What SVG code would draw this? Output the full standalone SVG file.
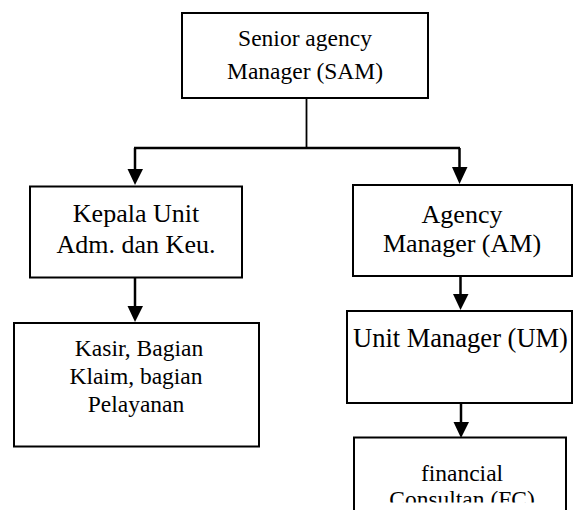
<svg xmlns="http://www.w3.org/2000/svg" width="573" height="510" viewBox="0 0 573 510">
<defs>
<style>
.box{fill:#fff;stroke:#000;stroke-width:2}
.t{font-family:"Liberation Serif","Times New Roman",serif;fill:#000;text-anchor:middle}
.c{stroke:#000;stroke-width:2.5;fill:none}
.ah{fill:#000}
</style>
<clipPath id="fcclip"><rect x="340" y="430" width="240" height="72.5"/></clipPath>
</defs>
<rect width="573" height="510" fill="#fff"/>
<g id="connectors">
<line class="c" x1="306.5" y1="98" x2="306.5" y2="148" style="stroke-width:1.8"/>
<line class="c" x1="134" y1="148" x2="460" y2="148"/>
<line class="c" x1="135" y1="148" x2="135" y2="170"/>
<polygon class="ah" points="127.5,169 143,169 135,185"/>
<line class="c" x1="459.5" y1="148" x2="459.5" y2="168"/>
<polygon class="ah" points="452,167 467.5,167 459.5,184"/>
<line class="c" x1="135" y1="278" x2="135" y2="307"/>
<polygon class="ah" points="127.5,306 143,306 135,322"/>
<line class="c" x1="460.5" y1="276" x2="460.5" y2="295"/>
<polygon class="ah" points="453,294 468.5,294 460.5,310"/>
<line class="c" x1="461" y1="403" x2="461" y2="423"/>
<polygon class="ah" points="453.5,422 469,422 461,438"/>
</g>
<g id="sam">
<rect class="box" x="182" y="13" width="246" height="85"/>
<text class="t" x="305" y="45.5" font-size="23.5">Senior agency</text>
<text class="t" x="305" y="79" font-size="23.5">Manager (SAM)</text>
</g>
<g id="kepala">
<rect class="box" x="30" y="186.5" width="212" height="91"/>
<text class="t" x="136" y="222" font-size="26">Kepala Unit</text>
<text class="t" x="136" y="253" font-size="26">Adm. dan Keu.</text>
</g>
<g id="kasir">
<rect class="box" x="14" y="323" width="245" height="123.5"/>
<text class="t" x="139" y="355.5" font-size="23.5">Kasir, Bagian</text>
<text class="t" x="136" y="384" font-size="23.5">Klaim, bagian</text>
<text class="t" x="136" y="412" font-size="23.5">Pelayanan</text>
</g>
<g id="am">
<rect class="box" x="353" y="185" width="219" height="91"/>
<text class="t" x="462" y="223" font-size="26">Agency</text>
<text class="t" x="462" y="251.5" font-size="26">Manager (AM)</text>
</g>
<g id="um">
<rect class="box" x="347" y="311" width="225" height="92"/>
<text class="t" x="460.5" y="346.5" font-size="26.5">Unit Manager (UM)</text>
</g>
<g id="fc">
<path d="M354,520 V437.5 H566 V520" class="box"/>
<g clip-path="url(#fcclip)">
<text class="t" x="462" y="481" font-size="23.5">financial</text>
<text class="t" x="462" y="507" font-size="23.5">Consultan (FC)</text>
</g>
</g>
</svg>
